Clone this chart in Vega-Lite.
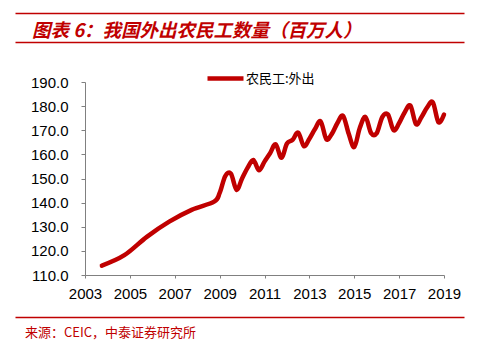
{
  "$schema": "https://vega.github.io/schema/vega-lite/v6.json",
  "background": "white",
  "padding": {"left": 15, "top": 13, "right": 15, "bottom": 5},
  "config": {"view": {"stroke": null}, "font": "Liberation Sans"},
  "columns": 1,
  "spacing": 15,
  "resolve": {"scale": {"color": "independent"}, "legend": {"color": "independent"}},
  "concat": [
    {
      "columns": 1,
      "spacing": 1,
      "concat": [
        {
          "width": 449,
          "height": 1,
          "title": {"text": "图表 6：我国外出农民工数量（百万人）", "orient": "bottom", "anchor": "start", "offset": 8, "dx": 17, "font": "Noto Sans CJK SC", "fontSize": 18.5, "fontStyle": "italic", "fontWeight": "bold", "color": "#C00000"},
          "data": {"values": []},
          "mark": "point",
          "encoding": {
            "x": {"field": "v", "type": "quantitative", "scale": {"domain": [0, 1]}, "axis": {"orient": "top", "domainColor": "#C00000", "domainWidth": 1.5, "ticks": false, "labels": false, "grid": false, "title": null}}
          }
        },
        {
          "width": 449,
          "height": 1,
          "data": {"values": []},
          "mark": "point",
          "encoding": {
            "x": {"field": "v", "type": "quantitative", "scale": {"domain": [0, 1]}, "axis": {"orient": "top", "domainColor": "#C00000", "domainWidth": 1.5, "ticks": false, "labels": false, "grid": false, "title": null}}
          }
        }
      ]
    },
    {
      "spacing": 0,
      "resolve": {"scale": {"color": "independent"}, "legend": {"color": "independent"}},
      "hconcat": [
        {
          "width": 1,
          "height": 1,
          "data": {"values": []},
          "mark": "point",
          "encoding": {}
        },
        {
          "width": 359,
          "height": 193,
          "data": {"values": [
            {"date": "2003-12-31", "value": 113.9, "series": "农民工:外出"},
            {"date": "2004-12-31", "value": 118.2, "series": "农民工:外出"},
            {"date": "2005-12-31", "value": 125.8, "series": "农民工:外出"},
            {"date": "2006-12-31", "value": 132.1, "series": "农民工:外出"},
            {"date": "2007-12-31", "value": 137.0, "series": "农民工:外出"},
            {"date": "2008-12-31", "value": 140.4, "series": "农民工:外出"},
            {"date": "2009-03-31", "value": 144.0, "series": "农民工:外出"},
            {"date": "2009-06-30", "value": 151.0, "series": "农民工:外出"},
            {"date": "2009-09-30", "value": 152.0, "series": "农民工:外出"},
            {"date": "2009-12-31", "value": 145.3, "series": "农民工:外出"},
            {"date": "2010-03-31", "value": 150.0, "series": "农民工:外出"},
            {"date": "2010-06-30", "value": 154.5, "series": "农民工:外出"},
            {"date": "2010-09-30", "value": 157.7, "series": "农民工:外出"},
            {"date": "2010-12-31", "value": 153.4, "series": "农民工:外出"},
            {"date": "2011-03-31", "value": 157.0, "series": "农民工:外出"},
            {"date": "2011-06-30", "value": 160.5, "series": "农民工:外出"},
            {"date": "2011-09-30", "value": 164.2, "series": "农民工:外出"},
            {"date": "2011-12-31", "value": 158.6, "series": "农民工:外出"},
            {"date": "2012-03-31", "value": 164.5, "series": "农民工:外出"},
            {"date": "2012-06-30", "value": 166.0, "series": "农民工:外出"},
            {"date": "2012-09-30", "value": 169.0, "series": "农民工:外出"},
            {"date": "2012-12-31", "value": 163.4, "series": "农民工:外出"},
            {"date": "2013-03-31", "value": 166.5, "series": "农民工:外出"},
            {"date": "2013-06-30", "value": 170.5, "series": "农民工:外出"},
            {"date": "2013-09-30", "value": 173.7, "series": "农民工:外出"},
            {"date": "2013-12-31", "value": 166.3, "series": "农民工:外出"},
            {"date": "2014-03-31", "value": 168.5, "series": "农民工:外出"},
            {"date": "2014-06-30", "value": 173.0, "series": "农民工:外出"},
            {"date": "2014-09-30", "value": 176.0, "series": "农民工:外出"},
            {"date": "2014-12-31", "value": 168.5, "series": "农民工:外出"},
            {"date": "2015-03-31", "value": 163.0, "series": "农民工:外出"},
            {"date": "2015-06-30", "value": 171.0, "series": "农民工:外出"},
            {"date": "2015-09-30", "value": 175.5, "series": "农民工:外出"},
            {"date": "2015-12-31", "value": 168.8, "series": "农民工:外出"},
            {"date": "2016-03-31", "value": 168.8, "series": "农民工:外出"},
            {"date": "2016-06-30", "value": 175.5, "series": "农民工:外出"},
            {"date": "2016-09-30", "value": 176.5, "series": "农民工:外出"},
            {"date": "2016-12-31", "value": 170.0, "series": "农民工:外出"},
            {"date": "2017-03-31", "value": 173.0, "series": "农民工:外出"},
            {"date": "2017-06-30", "value": 177.5, "series": "农民工:外出"},
            {"date": "2017-09-30", "value": 180.2, "series": "农民工:外出"},
            {"date": "2017-12-31", "value": 172.5, "series": "农民工:外出"},
            {"date": "2018-03-31", "value": 175.5, "series": "农民工:外出"},
            {"date": "2018-06-30", "value": 179.5, "series": "农民工:外出"},
            {"date": "2018-09-30", "value": 181.6, "series": "农民工:外出"},
            {"date": "2018-12-31", "value": 173.3, "series": "农民工:外出"},
            {"date": "2019-03-31", "value": 176.5, "series": "农民工:外出"}
          ]},
          "mark": {"type": "line", "interpolate": "cardinal", "strokeWidth": 4.5, "strokeCap": "round"},
          "encoding": {
            "x": {
              "field": "date",
              "type": "temporal",
              "scale": {"domain": [{"year": 2003, "month": "mar", "date": 31}, {"year": 2019, "month": "mar", "date": 31}]},
              "axis": {
                "values": [
                  {"year": 2003, "month": "mar", "date": 31},
                  {"year": 2005, "month": "mar", "date": 31},
                  {"year": 2007, "month": "mar", "date": 31},
                  {"year": 2009, "month": "mar", "date": 31},
                  {"year": 2011, "month": "mar", "date": 31},
                  {"year": 2013, "month": "mar", "date": 31},
                  {"year": 2015, "month": "mar", "date": 31},
                  {"year": 2017, "month": "mar", "date": 31},
                  {"year": 2019, "month": "mar", "date": 31}
                ],
                "format": "%Y",
                "title": null,
                "grid": false,
                "labelFontSize": 15,
                "labelColor": "#000000",
                "labelPadding": 8,
                "labelFlush": false,
                "labelOverlap": false,
                "tickSize": 3,
                "tickColor": "#808080",
                "domainColor": "#808080"
              }
            },
            "y": {
              "field": "value",
              "type": "quantitative",
              "scale": {"domain": [110, 190], "zero": false, "nice": false},
              "axis": {
                "values": [110, 120, 130, 140, 150, 160, 170, 180, 190],
                "format": ".1f",
                "title": null,
                "grid": false,
                "labelFontSize": 15,
                "labelColor": "#000000",
                "labelPadding": 13,
                "tickSize": 4,
                "tickColor": "#808080",
                "domainColor": "#808080",
                "minExtent": 69
              }
            },
            "color": {
              "field": "series",
              "type": "nominal",
              "scale": {"range": ["#C00000"]},
              "legend": {
                "orient": "none",
                "legendX": 120,
                "legendY": -24,
                "title": null,
                "symbolType": "stroke",
                "symbolSize": 1296,
                "symbolStrokeWidth": 4.5,
                "labelFont": "Noto Sans CJK SC",
                "labelFontSize": 13,
                "labelColor": "#000000",
                "labelOffset": 0,
                "padding": 0
              }
            }
          }
        }
      ]
    },
    {
      "width": 449,
      "height": 1,
      "title": {"text": "来源：CEIC，中泰证券研究所", "orient": "bottom", "anchor": "start", "offset": 10, "dx": 10, "font": "Noto Sans CJK SC", "fontSize": 13, "fontWeight": "normal", "color": "#C00000"},
      "data": {"values": []},
      "mark": "point",
      "encoding": {
        "x": {"field": "v", "type": "quantitative", "scale": {"domain": [0, 1]}, "axis": {"orient": "bottom", "domainColor": "#C00000", "domainWidth": 1.5, "ticks": false, "labels": false, "grid": false, "title": null}}
      }
    }
  ]
}
